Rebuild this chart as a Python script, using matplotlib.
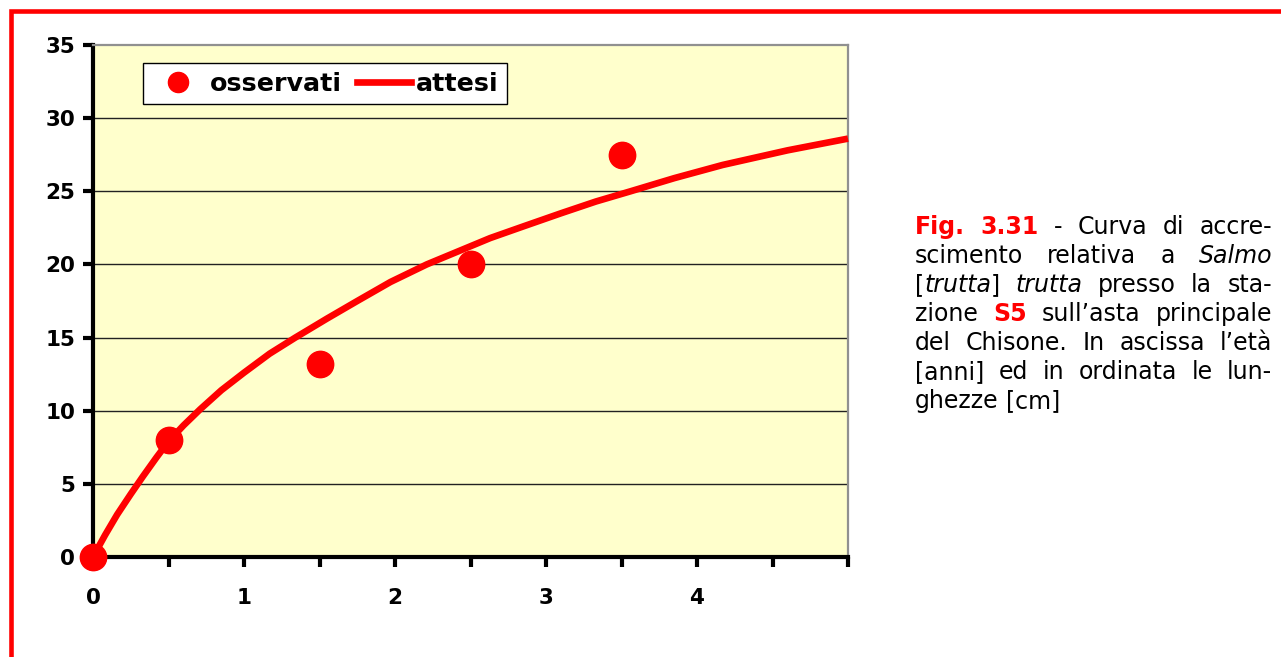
import re
import matplotlib
matplotlib.use("Agg")
from matplotlib import pyplot as plt
from matplotlib.lines import Line2D

plt.rcParams['font.family'] = ['DejaVu Sans']

# observed lengths [cm] at age [anni]
eta_oss = [0, 0.5, 1.5, 2.5, 3.5]
lung_oss = [0, 8.0, 13.2, 20.0, 27.5]

# expected curve
eta_att = [0, 0.08, 0.16, 0.25, 0.33, 0.42, 0.5, 0.6, 0.71, 0.85, 1.0, 1.17,
           1.34, 1.55, 1.75, 1.97, 2.21, 2.42, 2.63, 2.85, 3.1, 3.33, 3.56,
           3.85, 4.17, 4.6, 5.0]
lung_att = [0, 1.5, 2.9, 4.3, 5.5, 6.8, 7.9, 9.0, 10.1, 11.4, 12.6, 13.9,
            15.0, 16.3, 17.5, 18.8, 20.0, 20.9, 21.8, 22.6, 23.5, 24.3, 25.0,
            25.9, 26.8, 27.8, 28.6]

x_ticks = [0, 0.5, 1, 1.5, 2, 2.5, 3, 3.5, 4, 4.5, 5]
x_labels = ['0', '', '1', '', '2', '', '3', '', '4', '', '']
y_ticks = [0, 5, 10, 15, 20, 25, 30, 35]

caption = [
    "#Fig.# #3.31# - Curva di accre-",
    "scimento relativa a *Salmo*",
    "[*trutta*] *trutta* presso la sta-",
    "zione #S5# sull\u2019asta principale",
    "del Chisone. In ascissa l\u2019et\u00e0",
    "[anni] ed in ordinata le lun-",
    "ghezze [cm]",
]

W, H = 1281, 657
fig = plt.figure(figsize=(W / 100, H / 100), dpi=100)
fig.patch.set_facecolor('white')

# red page frame (only top and left visible)
fig.add_artist(Line2D([10.5 / W, 10.5 / W, 1.01], [-0.01, 1 - 10.5 / H, 1 - 10.5 / H],
                      transform=fig.transFigure, color='#ff0000', lw=3.3,
                      solid_joinstyle='miter'))

ax = fig.add_axes([93 / W, 1 - 557 / H, (848 - 93) / W, (557 - 45) / H])
ax.set_facecolor('#ffffcc')
ax.set_xlim(0, 5)
ax.set_ylim(0, 35)

for y in y_ticks[1:-1]:
    ax.axhline(y, color='#222222', lw=1.0, zorder=1)

ax.plot(eta_att, lung_att, color='#ff0000', lw=4.8, zorder=3,
        solid_capstyle='butt', solid_joinstyle='round', clip_on=False)
ax.plot(eta_oss, lung_oss, 'o', color='#ff0000', ms=19, zorder=4, clip_on=False)

for s in ['left', 'bottom']:
    ax.spines[s].set_linewidth(3)
    ax.spines[s].set_color('black')
for s in ['top', 'right']:
    ax.spines[s].set_linewidth(1.6)
    ax.spines[s].set_color('#909090')

ax.set_xticks(x_ticks)
ax.set_xticklabels(x_labels)
ax.set_yticks(y_ticks)
ax.tick_params(axis='both', direction='out', length=7, width=3, color='black',
               labelsize=15.5)
ax.tick_params(axis='x', pad=15)
ax.tick_params(axis='y', pad=6)
for lab in ax.get_xticklabels() + ax.get_yticklabels():
    lab.set_fontweight('bold')

h1 = Line2D([], [], marker='o', ls='none', color='#ff0000', ms=14.5)
h2 = Line2D([], [], color='#ff0000', lw=4.8)
leg = ax.legend([h1, h2], ['osservati', 'attesi'], ncol=2, loc='upper left',
                bbox_to_anchor=((142.7 - 93) / 755, (557 - 62.7) / 512),
                borderaxespad=0, frameon=True, fancybox=False, framealpha=1,
                edgecolor='black', prop={'weight': 'bold', 'size': 18.3},
                handlelength=2.1, handletextpad=0.2, columnspacing=0.6,
                borderpad=0.35)
leg.get_frame().set_linewidth(1.0)
leg.set_zorder(5)

# justified caption on the right
fig.canvas.draw()
renderer = fig.canvas.get_renderer()
FS = 17
left_px, right_px = 915, 1272
base0, step = 234, 29


def style_of(tag):
    if tag == '#':
        return dict(color='#ff0000', fontweight='bold', fontstyle='normal')
    if tag == '*':
        return dict(color='black', fontweight='normal', fontstyle='italic')
    return dict(color='black', fontweight='normal', fontstyle='normal')


def runs_of(token):
    out = []
    for part in re.split(r'(\*[^*]+\*|#[^#]+#)', token):
        if not part:
            continue
        if part[0] in '*#' and part[-1] == part[0] and len(part) > 1:
            out.append((part[1:-1], style_of(part[0])))
        else:
            out.append((part, style_of('')))
    return out


def width_of(s, st):
    t = fig.text(0, 0, s, fontsize=FS, **st)
    w = t.get_window_extent(renderer).width
    t.remove()
    return w


space_w = width_of('a a', style_of('')) - 2 * width_of('a', style_of(''))

for i, line in enumerate(caption):
    tokens = [runs_of(tok) for tok in line.split(' ')]
    widths = [[width_of(s, st) for s, st in tok] for tok in tokens]
    total = sum(sum(w) for w in widths)
    last = i == len(caption) - 1
    gap = space_w if last else (right_px - left_px - total) / (len(tokens) - 1)
    x = left_px
    y = base0 + i * step
    for tok, ws in zip(tokens, widths):
        for (s, st), w in zip(tok, ws):
            fig.text(x / W, 1 - y / H, s, fontsize=FS, va='baseline', ha='left', **st)
            x += w
        x += gap

fig.savefig('out.png', dpi=100)
